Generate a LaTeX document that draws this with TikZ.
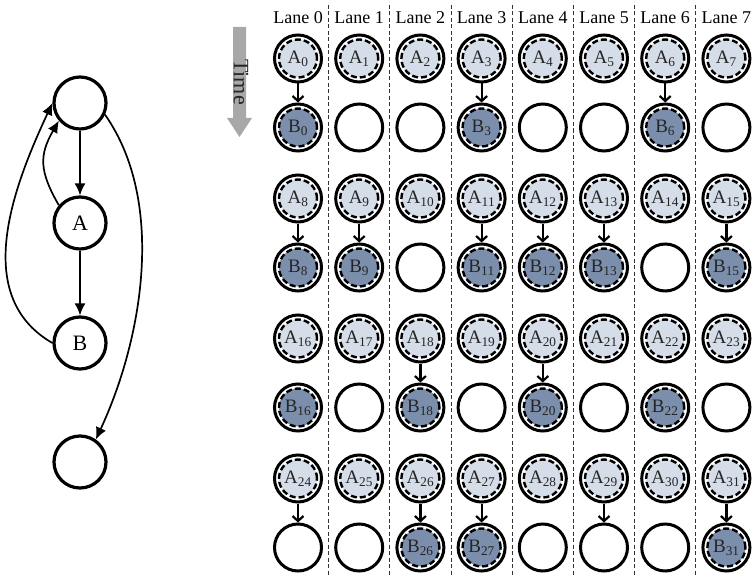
\documentclass[tikz,border=0pt]{standalone}
\usepackage{fontspec}
\setmainfont{Liberation Serif}
\usetikzlibrary{arrows.meta}
\definecolor{alight}{HTML}{D5DDE8}
\definecolor{bdark}{HTML}{7B8FAC}
\definecolor{timegrey}{HTML}{A8A8A8}
\tikzset{
  gnode/.style={circle, draw=black, line width=3.2pt, minimum size=52pt, inner sep=0pt, font=\fontsize{22}{22}\selectfont},
  gedge/.style={line width=1.7pt, -{Latex[length=12pt,width=11pt]}},
  outer/.style={circle, draw=black, line width=3pt, minimum size=47pt, inner sep=0pt, fill=white},
  innerA/.style={circle, draw=black, line width=2.4pt, dash pattern=on 6pt off 3pt, minimum size=38pt, inner sep=0pt, fill=alight, font=\fontsize{19}{19}\selectfont, text=black!85},
  innerB/.style={innerA, fill=bdark},
  stepedge/.style={line width=2.2pt, -{Straight Barb[length=5pt,width=11pt,line width=2.2pt]}},
  lanesep/.style={draw=black!80, line width=0.8pt, dash pattern=on 4pt off 2.5pt},
  lanelabel/.style={font=\fontsize{18}{18}\selectfont, inner sep=0pt}
}
\begin{document}
\begin{tikzpicture}[x=1pt,y=1pt]
\useasboundingbox (0,0) rectangle (754,-575);
% ---------- left graph ----------
\node[gnode] (top) at (80,-103) {};
\node[gnode] (A) at (80,-223) {A};
\node[gnode] (B) at (80,-343) {B};
\node[gnode] (bot) at (80,-462) {};
\draw[gedge] (top) -- (A);
\draw[gedge] (A) -- (B);
\draw[gedge] (A.140) to[out=120, in=240, looseness=1.2] (top.220);
\draw[gedge] (B.180) to[out=150, in=245] (top.180);
\draw[gedge] (top.-25) to[out=-55, in=65, looseness=0.85] (bot.55);
% ---------- time arrow ----------
\fill[timegrey] (233,-27) -- (246,-27) -- (246,-118) -- (252,-118) -- (239.5,-137) -- (227,-118) -- (233,-118) -- cycle;
\node[rotate=-90, font=\fontsize{22}{22}\selectfont, text=black!85, inner sep=0pt] (time) at (241,-82) {Time};
% ---------- lanes ----------
\foreach \c in {0,...,6} {
  \draw[lanesep] ({328.6+61.2*\c},-5) -- ({328.6+61.2*\c},-575);
}
\foreach \c in {0,...,7} {
  \node[lanelabel] (lane\c) at ({298+61.2*\c},-18) {Lane \c};
}
% rows: A rows at 58.5,198.5,338.5,478.5 ; B rows +69
\foreach \p in {0,...,3} {
  \foreach \c in {0,...,7} {
    \pgfmathtruncatemacro{\idx}{8*\p+\c}
    \node[outer] (a\idx) at ({298+61.2*\c},{-58.5-140*\p}) {};
    \node[innerA] (ai\idx) at (a\idx.center) {A$_{\mathrm{\idx}}$};
    \node[outer] (b\idx) at ({298+61.2*\c},{-127.5-140*\p}) {};
  }
}
% filled B nodes
\foreach \i in {0,3,6,8,9,11,12,13,15,16,18,20,22,26,27,31} {
  \node[innerB] (bi\i) at (b\i.center) {B$_{\mathrm{\i}}$};
}
% arrows
\foreach \i in {0,3,6,8,9,11,12,13,15,18,20,24,26,27,29,31} {
  \draw[stepedge] (a\i.south) -- (b\i.north);
}
\end{tikzpicture}
\end{document}
